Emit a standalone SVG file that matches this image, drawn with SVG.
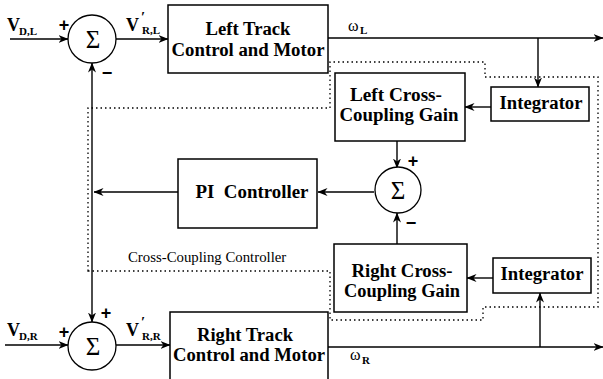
<svg xmlns="http://www.w3.org/2000/svg" width="603" height="379" viewBox="0 0 603 379">
<defs>
<marker id="ah" viewBox="0 0 10 8" refX="9.5" refY="4" markerWidth="10" markerHeight="8" markerUnits="userSpaceOnUse" orient="auto">
<path d="M0,0 L10,4 L0,8 L3,4 z" fill="#000"/>
</marker>
<style>
.box{fill:#fff;stroke:#000;stroke-width:1.5}
.sum{fill:#fff;stroke:#000;stroke-width:1.3}
.ar{fill:none;stroke:#000;stroke-width:1.4;marker-end:url(#ah)}
.dot{fill:none;stroke:#000;stroke-width:1.3;stroke-dasharray:1.5 3}
.bt{font-family:"Liberation Serif","Times New Roman",serif;font-weight:bold;font-size:18.5px;text-anchor:middle;fill:#000}
.sg{font-family:"Liberation Serif","Times New Roman",serif;font-size:25px;text-anchor:middle;fill:#000}
.lb{font-family:"Liberation Serif","Times New Roman",serif;font-weight:bold;font-size:18px;fill:#000}
.sb{font-family:"Liberation Serif","Times New Roman",serif;font-weight:bold;font-size:11px;fill:#000}
.pr{font-family:"Liberation Serif","Times New Roman",serif;font-weight:bold;font-size:15px;fill:#000}
.pm{font-family:"Liberation Sans",Arial,sans-serif;font-weight:bold;font-size:18px;text-anchor:middle;fill:#000}
.om{font-family:"Liberation Serif","Times New Roman",serif;font-size:16px;fill:#000}
.cc{font-family:"Liberation Serif","Times New Roman",serif;font-size:14.8px;fill:#000}
</style>
</defs>

<g id="cross-coupling-region">
<path class="dot" d="M88,271 L88,108 L330,108 L330,62 L485,62 L485,77 L598,77 L598,307 L483,307 L483,320 L330,320 L330,271 Z"/>
<text class="cc" x="128" y="262">Cross-Coupling Controller</text>
</g>

<g id="connectors">
<line class="ar" x1="10" y1="39" x2="68" y2="39"/>
<line class="ar" x1="116" y1="39" x2="168" y2="39"/>
<line class="ar" x1="328" y1="38" x2="603" y2="38"/>
<line class="ar" x1="538" y1="38" x2="538" y2="87"/>
<line class="ar" x1="491" y1="107" x2="465" y2="107"/>
<line class="ar" x1="397" y1="141" x2="397" y2="168"/>
<line class="ar" x1="397" y1="244" x2="397" y2="213"/>
<line class="ar" x1="374" y1="192" x2="318" y2="192"/>
<line class="ar" x1="178" y1="192" x2="94" y2="192"/>
<line class="ar" x1="92" y1="192" x2="92" y2="63"/>
<line class="ar" x1="92" y1="192" x2="92" y2="322"/>
<line class="ar" x1="5" y1="345" x2="68" y2="345"/>
<line class="ar" x1="116" y1="345" x2="170" y2="345"/>
<line class="ar" x1="328" y1="347" x2="603" y2="347"/>
<line class="ar" x1="540" y1="347" x2="540" y2="293"/>
<line class="ar" x1="493" y1="278" x2="467" y2="278"/>
</g>

<g id="sum-left">
<circle class="sum" cx="92" cy="39" r="24"/>
<text class="sg" x="93" y="48">Σ</text>
<text class="pm" x="64" y="31">+</text>
<text class="pm" x="107" y="79">−</text>
<text class="lb" x="7" y="31">V</text><text class="sb" x="19" y="35">D,L</text>
<text class="lb" x="126" y="31">V</text><text class="pr" x="141" y="22">′</text><text class="sb" x="142" y="34">R,L</text>
</g>

<g id="left-track">
<rect class="box" x="168" y="5" width="160" height="68"/>
<text class="bt" x="248" y="35" textLength="85" lengthAdjust="spacingAndGlyphs">Left Track</text>
<text class="bt" x="248" y="56" textLength="153" lengthAdjust="spacingAndGlyphs">Control and Motor</text>
<text class="om" x="348" y="31">ω</text><text class="sb" x="360" y="34">L</text>
</g>

<g id="left-integrator">
<rect class="box" x="491" y="87" width="98" height="34"/>
<text class="bt" x="541" y="109" textLength="83" lengthAdjust="spacingAndGlyphs">Integrator</text>
</g>

<g id="left-gain">
<rect class="box" x="335" y="73" width="130" height="68"/>
<text class="bt" x="396" y="101" textLength="92" lengthAdjust="spacingAndGlyphs">Left Cross-</text>
<text class="bt" x="399" y="121" textLength="119" lengthAdjust="spacingAndGlyphs">Coupling Gain</text>
</g>

<g id="sum-middle">
<circle class="sum" cx="398" cy="190" r="23"/>
<text class="sg" x="398" y="199">Σ</text>
<text class="pm" x="413" y="167">+</text>
<text class="pm" x="411" y="229">−</text>
</g>

<g id="pi-controller">
<rect class="box" x="178" y="159" width="139" height="69"/>
<text class="bt" x="252" y="198" textLength="113" lengthAdjust="spacingAndGlyphs" xml:space="preserve">PI  Controller</text>
</g>

<g id="right-gain">
<rect class="box" x="334" y="244" width="133" height="68"/>
<text class="bt" x="402" y="277" textLength="101" lengthAdjust="spacingAndGlyphs">Right Cross-</text>
<text class="bt" x="402" y="297" textLength="116" lengthAdjust="spacingAndGlyphs">Coupling Gain</text>
</g>

<g id="right-integrator">
<rect class="box" x="493" y="258" width="98" height="35"/>
<text class="bt" x="542" y="280" textLength="83" lengthAdjust="spacingAndGlyphs">Integrator</text>
</g>

<g id="sum-right">
<circle class="sum" cx="92" cy="346" r="24"/>
<text class="sg" x="93" y="355">Σ</text>
<text class="pm" x="64" y="338">+</text>
<text class="pm" x="106" y="319">+</text>
<text class="lb" x="7" y="336">V</text><text class="sb" x="19" y="340">D,R</text>
<text class="lb" x="126" y="336">V</text><text class="pr" x="141" y="327">′</text><text class="sb" x="142" y="340">R,R</text>
</g>

<g id="right-track">
<rect class="box" x="170" y="312" width="158" height="72"/>
<text class="bt" x="245" y="341" textLength="96" lengthAdjust="spacingAndGlyphs">Right Track</text>
<text class="bt" x="249" y="361" textLength="152" lengthAdjust="spacingAndGlyphs">Control and Motor</text>
<text class="om" x="350" y="360">ω</text><text class="sb" x="362" y="364">R</text>
</g>
</svg>
